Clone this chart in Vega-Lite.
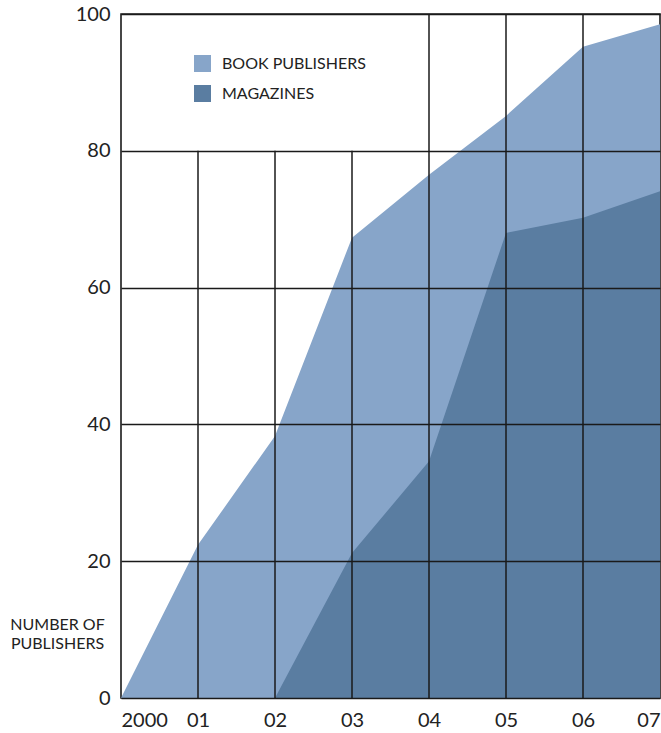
{
  "$schema": "https://vega.github.io/schema/vega-lite/v6.json",
  "autosize": "none",
  "padding": {"left": 121, "top": 14, "right": 1, "bottom": 35},
  "width": 539,
  "height": 684,
  "background": "white",
  "config": {
    "font": "Lato",
    "view": {"stroke": "#1a1a1a", "strokeWidth": 1.6},
    "axis": {"labelFont": "Lato", "titleFont": "Lato"}
  },
  "datasets": {
    "series": [
      {"year": 2000, "series": "BOOK PUBLISHERS", "value": 0},
      {"year": 2001, "series": "BOOK PUBLISHERS", "value": 22.4},
      {"year": 2002, "series": "BOOK PUBLISHERS", "value": 38.3},
      {"year": 2003, "series": "BOOK PUBLISHERS", "value": 67.3},
      {"year": 2004, "series": "BOOK PUBLISHERS", "value": 76.5},
      {"year": 2005, "series": "BOOK PUBLISHERS", "value": 85.1},
      {"year": 2006, "series": "BOOK PUBLISHERS", "value": 95.2},
      {"year": 2007, "series": "BOOK PUBLISHERS", "value": 98.5},
      {"year": 2002, "series": "MAGAZINES", "value": 0},
      {"year": 2003, "series": "MAGAZINES", "value": 21.2},
      {"year": 2004, "series": "MAGAZINES", "value": 34.6},
      {"year": 2005, "series": "MAGAZINES", "value": 68.0},
      {"year": 2006, "series": "MAGAZINES", "value": 70.2},
      {"year": 2007, "series": "MAGAZINES", "value": 74.1}
    ],
    "vlines": [
      {"year": 2001, "top": 80},
      {"year": 2002, "top": 80},
      {"year": 2003, "top": 80},
      {"year": 2004, "top": 100},
      {"year": 2005, "top": 100},
      {"year": 2006, "top": 100}
    ]
  },
  "layer": [
    {
      "data": {"name": "series"},
      "transform": [{"filter": "datum.series == 'BOOK PUBLISHERS'"}],
      "mark": {"type": "area", "opacity": 1},
      "encoding": {
        "x": {
          "field": "year", "type": "quantitative",
          "scale": {"domain": [2000, 2007], "nice": false, "zero": false},
          "axis": {
            "values": [2000, 2001, 2002, 2003, 2004, 2005, 2006, 2007],
            "labelExpr": "datum.value == 2000 ? '2000' : '0' + (datum.value - 2000)",
            "labelFlush": true, "labelFontSize": 20, "labelColor": "#222",
            "labelPadding": 12, "ticks": false, "domain": false, "grid": false,
            "title": null
          }
        },
        "y": {
          "field": "value", "type": "quantitative", "stack": null,
          "scale": {"domain": [0, 100], "nice": false},
          "axis": {
            "values": [0, 20, 40, 60, 80, 100],
            "labelFontSize": 20, "labelColor": "#222", "labelPadding": 11,
            "ticks": false, "domain": false,
            "grid": true, "gridColor": "#1a1a1a", "gridWidth": 1.5, "gridOpacity": 1,
            "zindex": 1,
            "title": ["NUMBER OF", "PUBLISHERS"],
            "titleAngle": 0, "titleAlign": "center", "titleBaseline": "top",
            "titleFontSize": 16, "titleFontWeight": "normal", "titleColor": "#222",
            "titleX": -64, "titleY": 602, "titleLineHeight": 19
          }
        },
        "color": {
          "field": "series", "type": "nominal",
          "scale": {"domain": ["BOOK PUBLISHERS", "MAGAZINES"], "range": ["#87a5c9", "#5a7da1"]},
          "legend": {
            "orient": "none", "legendX": 73, "legendY": 41, "title": null,
            "symbolType": "square", "symbolSize": 289, "symbolStrokeWidth": 0,
            "symbolOpacity": 1, "labelFontSize": 16, "labelColor": "#222",
            "labelOffset": 11, "rowPadding": 13
          }
        }
      }
    },
    {
      "data": {"name": "series"},
      "transform": [{"filter": "datum.series == 'MAGAZINES'"}],
      "mark": {"type": "area", "opacity": 1},
      "encoding": {
        "x": {"field": "year", "type": "quantitative"},
        "y": {"field": "value", "type": "quantitative", "stack": null},
        "color": {"field": "series", "type": "nominal"}
      }
    },
    {
      "data": {"name": "vlines"},
      "mark": {"type": "rule", "color": "#1a1a1a", "strokeWidth": 1.5},
      "encoding": {
        "x": {"field": "year", "type": "quantitative"},
        "y": {"field": "top", "type": "quantitative"},
        "y2": {"datum": 0}
      }
    }
  ]
}
